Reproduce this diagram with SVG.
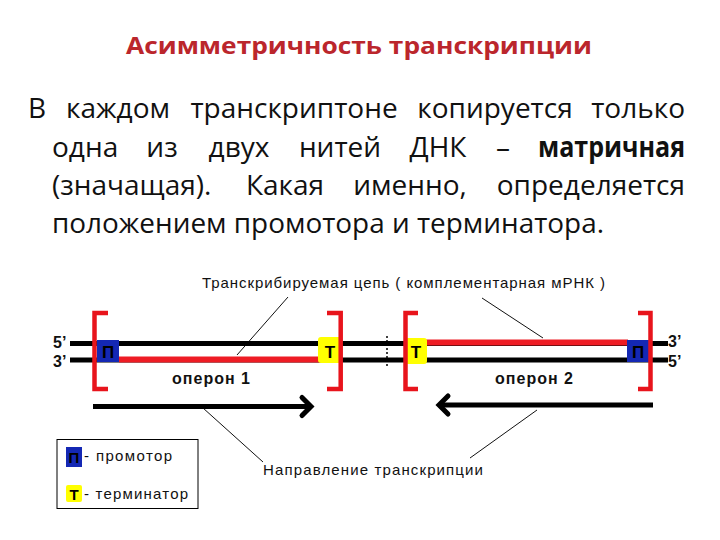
<svg xmlns="http://www.w3.org/2000/svg" width="720" height="540" viewBox="0 0 720 540">
<style>
.title{font-family:"Open Sans","Noto Sans",sans-serif;font-weight:700;font-size:24px;fill:#bb262c}
.body{font-family:"Open Sans","Noto Sans",sans-serif;font-size:28px;fill:#111}
.b{font-weight:700}
.lab{font-family:"Liberation Sans",Arial,sans-serif;font-size:15px;fill:#111}
.op{font-family:"Liberation Sans",Arial,sans-serif;font-size:16px;font-weight:700;fill:#111}
.box{font-family:"Liberation Sans",Arial,sans-serif;font-size:17px;font-weight:700;fill:#000;text-anchor:middle}
.sbox{font-family:"Liberation Sans",Arial,sans-serif;font-size:15px;font-weight:700;fill:#000;text-anchor:middle}
.dna{stroke:#000;stroke-width:5;fill:none}
.rna{stroke:#ee1c24;stroke-width:6;fill:none}
.br{fill:none;stroke:#e8141c;stroke-width:4.5;stroke-linejoin:miter}
.ptr{stroke:#111;stroke-width:1;fill:none}
.arr{stroke:#000;stroke-width:5;fill:none}
.chev{stroke:#000;stroke-width:5;fill:none;stroke-linecap:round;stroke-linejoin:miter}
.prom{fill:#1428b4}
.term{fill:#ffff00}
.tick{stroke:#000;stroke-width:1.5;stroke-dasharray:2 2}
</style>

<g id="title">
<text class="title" x="126" y="54" textLength="466" lengthAdjust="spacingAndGlyphs">Асимметричность транскрипции</text>
</g>

<g id="paragraph" class="body">
<text x="28" y="118">В</text>
<text x="118" y="118" text-anchor="middle">каждом</text>
<text x="294" y="118" text-anchor="middle">транскриптоне</text>
<text x="495" y="118" text-anchor="middle">копируется</text>
<text x="685" y="118" text-anchor="end">только</text>

<text x="52" y="157">одна</text>
<text x="162" y="157" text-anchor="middle">из</text>
<text x="239" y="157" text-anchor="middle">двух</text>
<text x="340" y="157" text-anchor="middle">нитей</text>
<text x="438" y="157" text-anchor="middle">ДНК</text>
<text x="503" y="157" text-anchor="middle">–</text>
<text class="b" x="538" y="157" textLength="147" lengthAdjust="spacingAndGlyphs">матричная</text>

<text x="52" y="195">(значащая).</text>
<text x="285" y="195" text-anchor="middle">Какая</text>
<text x="410" y="195" text-anchor="middle">именно,</text>
<text x="685" y="195" text-anchor="end">определяется</text>

<text x="52" y="233" textLength="552" lengthAdjust="spacingAndGlyphs">положением промотора и терминатора.</text>
</g>

<g id="connectors">
<path class="ptr" d="M288,297 L237,355"/>
<path class="ptr" d="M482,298 L543,338"/>
<path class="ptr" d="M203,408 L263,462"/>
<path class="ptr" d="M537,410 L470,458"/>
</g>

<g id="dna">
<line class="dna" x1="70" y1="343.5" x2="668" y2="343.5"/>
<line class="dna" x1="70" y1="360" x2="668" y2="360"/>
<line class="tick" x1="387" y1="336" x2="387" y2="367"/>
<text class="op" x="53" y="348">5’</text>
<text class="op" x="53" y="367">3’</text>
<text class="op" x="668" y="347">3’</text>
<text class="op" x="668" y="367">5’</text>
</g>

<g id="operon1">
<line class="rna" x1="119" y1="359.5" x2="320" y2="359.5"/>
<rect class="prom" x="97" y="340" width="22" height="22"/>
<text class="box" x="108" y="358">П</text>
<rect class="term" x="318" y="337" width="24" height="26" rx="3"/>
<text class="box" x="330" y="358">Т</text>
<path class="br" d="M108,313 H94.5 V389 H108"/>
<path class="br" d="M327,313 H340.7 V389 H327"/>
<text class="op" x="172" y="384" textLength="78">оперон 1</text>
<line class="arr" x1="93" y1="406.5" x2="309" y2="406.5"/>
<path class="chev" d="M302,397.5 L311,406.5 L302,415.5"/>
</g>

<g id="operon2">
<line class="rna" x1="425" y1="342.5" x2="628" y2="342.5"/>
<rect class="term" x="405" y="338" width="22" height="26" rx="3"/>
<text class="box" x="416" y="358">Т</text>
<rect class="prom" x="627" y="340" width="22" height="22"/>
<text class="box" x="638" y="358">П</text>
<path class="br" d="M418,313 H405.5 V389 H418"/>
<path class="br" d="M638,313 H650.5 V389 H638"/>
<text class="op" x="495" y="384" textLength="78">оперон 2</text>
<line class="arr" x1="441" y1="405" x2="653" y2="405"/>
<path class="chev" d="M448,396 L439,405 L448,414"/>
</g>

<g id="label-strand">
<text class="lab" x="202" y="288" textLength="403">Транскрибируемая цепь ( комплементарная мРНК )</text>
</g>

<g id="label-direction">
<text class="lab" x="263" y="475" textLength="220">Направление транскрипции</text>
</g>

<g id="legend">
<rect x="57" y="439.5" width="141" height="69" fill="#fff" stroke="#000" stroke-width="1"/>
<rect class="prom" x="66" y="447" width="16" height="20"/>
<text class="sbox" x="74" y="463">П</text>
<text class="lab" x="84" y="461" textLength="88">- промотор</text>
<rect class="term" x="66" y="485" width="16" height="17" rx="2"/>
<text class="sbox" x="74" y="500">Т</text>
<text class="lab" x="84" y="499" textLength="104">- терминатор</text>
</g>
</svg>
